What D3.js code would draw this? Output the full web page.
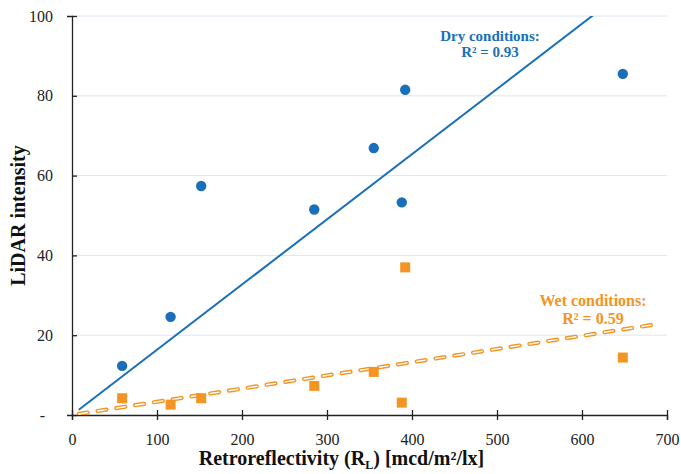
<!DOCTYPE html>
<html>
<head>
<meta charset="utf-8">
<script src="https://cdn.jsdelivr.net/npm/d3@7"></script>
<style>
  body { margin: 0; background: #fff; }
  svg { font-family: 'Liberation Serif', 'Times New Roman', serif; }
</style>
</head>
<body>
<svg id="chart" width="681" height="474"></svg>
<script>
// retroreflectivity of each marking [mcd/m2/lx]
const retro = [59, 116, 152, 285, 355, 392, 388, 648];
const dryIntensity = [12.3, 24.6, 57.4, 51.5, 66.9, 81.5, 53.3, 85.5];
const wetIntensity = [4.2, 2.6, 4.2, 7.3, 10.8, 37.0, 3.1, 14.4];
const xTicks = [0, 100, 200, 300, 400, 500, 600, 700];
const yTicks = [0, 20, 40, 60, 80, 100];
const trendRange = [8, 690];

const blue = '#1a6fba';
const orange = '#f39423';

const margin = { top: 16, right: 14, bottom: 59, left: 72 };
const width = 681, height = 474;
const svg = d3.select('#chart');

const x = d3.scaleLinear().domain([0, 700]).range([margin.left, width - margin.right]);
const y = d3.scaleLinear().domain([0, 100]).range([height - margin.bottom, margin.top]);

// gridlines
svg.append('g')
  .selectAll('line')
  .data(yTicks.slice(1))
  .join('line')
  .attr('x1', x(0)).attr('x2', x(700))
  .attr('y1', d => y(d)).attr('y2', d => y(d))
  .attr('stroke', '#dde5f2').attr('stroke-width', 1);

// axes
const xAxis = svg.append('g')
  .attr('transform', `translate(0,${y(0)})`)
  .call(d3.axisBottom(x).tickValues(xTicks).tickSize(5).tickPadding(14));
xAxis.selectAll('.tick line').attr('y1', -5);

const yAxis = svg.append('g')
  .attr('transform', `translate(${x(0)},0)`)
  .call(d3.axisLeft(y).tickValues(yTicks).tickSize(5).tickPadding(14)
    .tickFormat(d => d === 0 ? '-' : d));
yAxis.selectAll('.tick line').attr('x2', 5);
yAxis.selectAll('.tick text').filter(d => d === 0).attr('dx', -8);

[xAxis, yAxis].forEach(a => {
  a.select('.domain').attr('stroke', '#222').attr('stroke-width', 1.3);
  a.selectAll('.tick line').attr('stroke', '#222').attr('stroke-width', 1.3);
  a.selectAll('.tick text')
    .attr('fill', '#222')
    .style('font-family', "'Liberation Serif', serif")
    .style('font-size', '16px');
});

// regression through origin
const slope = ys => d3.sum(retro, (v, i) => v * ys[i]) / d3.sum(retro, v => v * v);
const drySlope = slope(dryIntensity);
const wetSlope = slope(wetIntensity);

svg.append('clipPath').attr('id', 'plot')
  .append('rect')
  .attr('x', x(0)).attr('y', y(100))
  .attr('width', x(700) - x(0)).attr('height', y(0) - y(100));

const line = d3.line().x(d => x(d[0])).y(d => y(d[1]));
const trend = s => trendRange.map(v => [v, v * s]);

const trends = svg.append('g').attr('clip-path', 'url(#plot)');
trends.append('path')
  .attr('d', line(trend(drySlope)))
  .attr('stroke', blue).attr('stroke-width', 2).attr('fill', 'none');
// double-line dash: orange capsule with white core
trends.append('path')
  .attr('d', line(trend(wetSlope)))
  .attr('stroke', orange).attr('stroke-width', 4.2)
  .attr('stroke-linecap', 'round')
  .attr('stroke-dasharray', '9 10').attr('fill', 'none');
trends.append('path')
  .attr('d', line(trend(wetSlope)))
  .attr('stroke', '#fff').attr('stroke-width', 1.4)
  .attr('stroke-linecap', 'round')
  .attr('stroke-dasharray', '9 10')
  .attr('fill', 'none');

// points
svg.append('g')
  .selectAll('circle')
  .data(retro)
  .join('circle')
  .attr('cx', d => x(d))
  .attr('cy', (d, i) => y(dryIntensity[i]))
  .attr('r', 5.2)
  .attr('fill', blue);

svg.append('g')
  .selectAll('rect')
  .data(retro)
  .join('rect')
  .attr('x', d => x(d) - 5)
  .attr('y', (d, i) => y(wetIntensity[i]) - 5)
  .attr('width', 10).attr('height', 10)
  .attr('fill', orange);

// labels
const label = (lines, cx, cy, color, size, gap) => {
  const t = svg.append('text')
    .attr('text-anchor', 'middle')
    .attr('fill', color)
    .style('font-weight', 'bold')
    .style('font-size', size + 'px');
  lines.forEach((s, i) => t.append('tspan').attr('x', cx).attr('y', cy + i * gap).text(s));
};
label(['Dry conditions:', 'R² = 0.93'], 490, 41, blue, 15, 16);
label(['Wet conditions:', 'R² = 0.59'], 593, 306, orange, 16, 17.5);

svg.append('text')
  .attr('transform', `translate(25,${(y(0) + y(100)) / 2}) rotate(-90)`)
  .attr('text-anchor', 'middle')
  .attr('fill', '#111')
  .style('font-weight', 'bold')
  .style('font-size', '20px')
  .text('LiDAR intensity');

const xt = svg.append('text')
  .attr('x', (x(0) + x(700)) / 2 - 28)
  .attr('y', 465)
  .attr('text-anchor', 'middle')
  .attr('fill', '#111')
  .style('font-weight', 'bold')
  .style('font-size', '20px');
xt.append('tspan').text('Retroreflectivity (R');
xt.append('tspan').attr('dy', 4).style('font-size', '12px').text('L');
xt.append('tspan').attr('dy', -4).text(') [mcd/m²/lx]');
</script>
</body>
</html>
